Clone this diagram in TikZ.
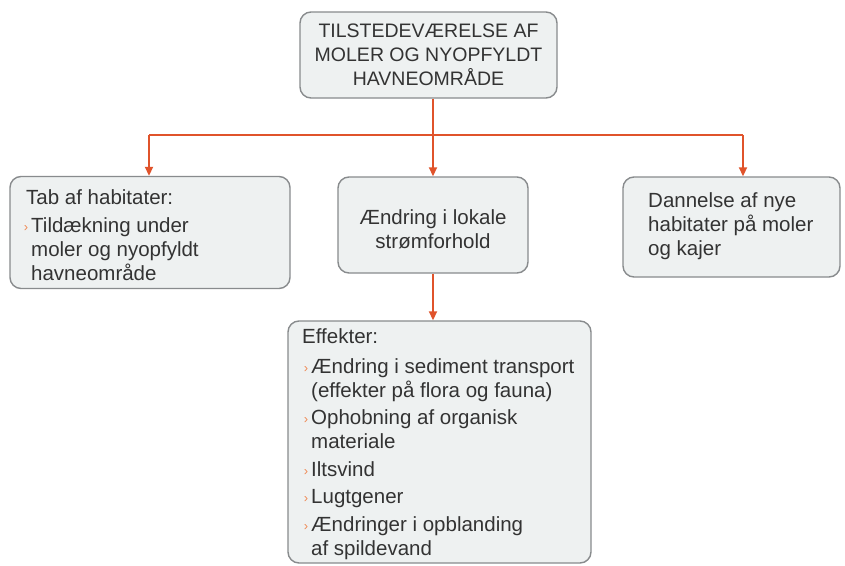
\documentclass[tikz,border=0pt]{standalone}
\usepackage{fontspec}
\setmainfont{Liberation Sans}
\usetikzlibrary{arrows.meta}
\definecolor{boxfill}{HTML}{EEF1F1}
\definecolor{boxline}{HTML}{888B8D}
\definecolor{ink}{HTML}{333333}
\definecolor{flow}{HTML}{E0532B}
\definecolor{bulc}{HTML}{EE8A55}
% small orange chevron hanging left of a list item
\newcommand{\itemmark}{\llap{\raisebox{1pt}{\fontsize{13}{13}\selectfont\color{bulc}›}\hspace{3pt}}}
\begin{document}
\begin{tikzpicture}[x=1pt,y=-1pt,
  box/.style={draw=boxline, line width=1.4pt, fill=boxfill, rounded corners=11pt, inner sep=0pt},
  txt/.style={text=ink, inner sep=0pt, font=\fontsize{20.5}{24}\selectfont, align=left},
  flowline/.style={draw=flow, line width=1.8pt},
  flowarrow/.style={flowline, -{Triangle[length=9pt,width=8pt]}}]
\useasboundingbox[fill=white] (0,0) rectangle (845,565);

% boxes
\node[box, minimum width=257pt, minimum height=86pt] (top) at (428.5,55) {};
\node[box, minimum width=280pt, minimum height=112pt] (left) at (150,232.5) {};
\node[box, minimum width=190pt, minimum height=96pt] (mid) at (433,225) {};
\node[box, minimum width=217pt, minimum height=100pt] (right) at (731.5,227) {};
\node[box, minimum width=303pt, minimum height=242pt] (bottom) at (439.5,442) {};

% texts
\node[txt, align=center, font=\fontsize{19.5}{24}\selectfont] (toptxt) at (top.center)
  {TILSTEDEVÆRELSE AF\\MOLER OG NYOPFYLDT\\HAVNEOMRÅDE};
\node[txt, anchor=north west] (lefttitle) at (26,187.2) {\strut Tab af habitater:};
\node[txt, anchor=north west] (leftlist) at (31,215.2)
  {\strut\itemmark Tildækning under\\moler og nyopfyldt\\havneområde};
\node[txt, align=center] (midtxt) at (433,229) {Ændring i lokale\\strømforhold};
\node[txt, anchor=north west] (righttxt) at (648,190.2)
  {\strut Dannelse af nye\\habitater på moler\\og kajer};
\node[txt, anchor=north west] (bottitle) at (302,326.2) {\strut Effekter:};
\node[txt, anchor=north west] (botlist) at (311,356.2)
  {\strut\itemmark Ændring i sediment transport\\(effekter på flora og fauna)\\[3.5pt]
   \itemmark Ophobning af organisk\\materiale\\[3.5pt]
   \itemmark Iltsvind\\[3.5pt]
   \itemmark Lugtgener\\[3.5pt]
   \itemmark Ændringer i opblanding\\af spildevand};

% connectors
\coordinate (bus) at (433,135);
\coordinate (busL) at (149,135);
\coordinate (busR) at (743,135);
\draw[flowline] (top.south -| bus) -- (bus);
\draw[flowline] (busL) -- (busR);
\draw[flowarrow] (busL) -- (busL |- left.north);
\draw[flowarrow] (bus) -- (mid.north);
\draw[flowarrow] (busR) -- (busR |- right.north);
\draw[flowarrow] (mid.south) -- (mid.south |- bottom.north);
\end{tikzpicture}
\end{document}
